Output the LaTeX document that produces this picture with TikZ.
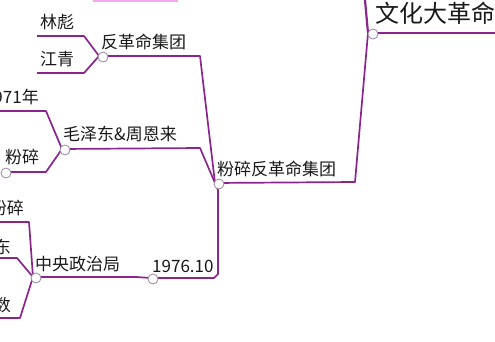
\documentclass[tikz,border=0pt]{standalone}
\usepackage{fontspec}
\newfontfamily\cjk{Noto Sans CJK SC}
\definecolor{mmline}{HTML}{8A2590}
\definecolor{mmknob}{HTML}{9888A2}
\definecolor{mmpink}{HTML}{F4A6F0}

\begin{document}
\begin{tikzpicture}[x=1pt, y=-1pt,
                    branch/.style={draw=mmline, line width=1.7pt, line join=round},
                    knob/.style={circle, draw=mmknob, fill=white, line width=0.8pt, inner sep=0pt, minimum size=10pt},
                    topic/.style={font=\cjk\fontsize{17}{17}\selectfont, inner sep=0pt, anchor=base west, text=black!90}
]
\useasboundingbox (0,0) rectangle (495,342);
\fill[mmpink] (93,0) rectangle (178,2.5);

% knobs and bends
\coordinate (kroot) at (368,33);
\coordinate (ksmash) at (215,183);
\coordinate (kgroup) at (99,56);
\coordinate (kmao) at (62,149);
\coordinate (ksmashA) at (4,172);
\coordinate (k1976) at (151,278);
\coordinate (kpolit) at (33,277);
\coordinate (eroot) at (495,33);

% texts
\node [topic, font=\cjk\fontsize{24}{24}\selectfont] at (375,23) (root) {文化大革命};
\node [topic] at (217,175) (smash) {粉碎反革命集团};
\node [topic] at (101,49) (group) {反革命集团};
\node [topic] at (40,29) (lin) {林彪};
\node [topic] at (40,66) (jiang) {江青};
\node [topic] at (63,140) (mao) {毛泽东\&周恩来};
\node [topic, anchor=base east] at (39,104) (y1971) {1971年};
\node [topic] at (5,163) (smashA) {粉碎};
\node [topic] at (152,272) (y1976) {1976.10};
\node [topic] at (35,270) (polit) {中央政治局};
\node [topic, anchor=base east] at (24,214) (smashB) {粉碎};
\node [topic, anchor=base east] at (11,253) (dong) {东};
\node [topic, anchor=base east] at (11,311) (shu) {数};

% connectors
\draw[branch, line width=2.2pt] (365,0) coordinate (rtop) -- (kroot);
\draw[branch] (kroot) -- (eroot);
\draw[branch] (kroot) -- (355,182) -- (ksmash);
\draw[branch] (ksmash) -- (200,56) -- (kgroup);
\draw[branch] (kgroup) -- (84,36) -- (37,36) coordinate (elin);
\draw[branch] (kgroup) -- (84,73) -- (37,73) coordinate (ejiang);
\draw[branch] (ksmash) -- (200,148) -- (kmao);
\draw[branch] (kmao) -- (46,111) -- (0,111) coordinate (e1971);
\draw[branch] (kmao) -- (46,172) -- (ksmashA);
\draw[branch] (ksmash) -- (218,190) -- (218,274) -- (214,278) -- (k1976);
\draw[branch] (k1976) -- (136,277) -- (kpolit);
\draw[branch] (kpolit) -- (29,222) -- (0,222) coordinate (esmashB);
\draw[branch] (kpolit) -- (17,258) -- (0,258) coordinate (edong);
\draw[branch] (kpolit) -- (20,318) -- (0,318) coordinate (eshu);

% knob circles
\foreach \k/\dx in {kroot/5,ksmash/4,kgroup/4,kmao/3,ksmashA/2,k1976/2,kpolit/3}
  \node [knob] at ([xshift=\dx pt, yshift=-1pt]\k) (\k-o) {};
\end{tikzpicture}
\end{document}
